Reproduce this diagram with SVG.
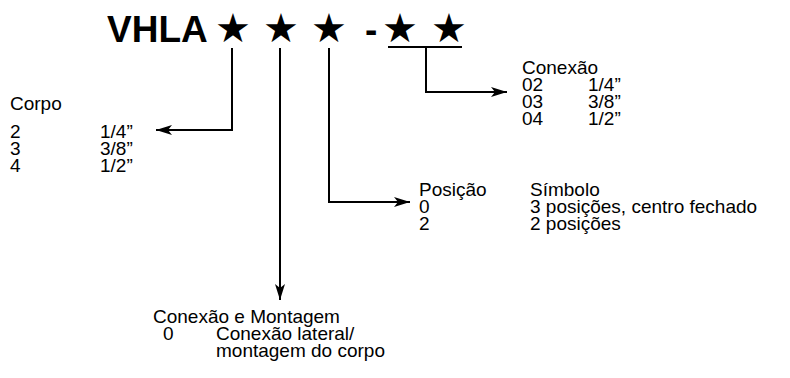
<svg xmlns="http://www.w3.org/2000/svg" width="790" height="378" viewBox="0 0 790 378">
<defs>
<marker id="ah" viewBox="0 0 16 10" refX="16" refY="5" markerWidth="16" markerHeight="10" markerUnits="userSpaceOnUse" orient="auto">
<path d="M0,0 L16,5 L0,10 L4,5 Z" fill="#000"/>
</marker>
<style>
text{font-family:"Liberation Sans",Arial,sans-serif;font-size:19px;fill:#000}
.title{font-size:37px;font-weight:bold}
.star{font-family:"DejaVu Sans",sans-serif;font-size:40px;text-anchor:middle}
.ln{fill:none;stroke:#000;stroke-width:2}
</style>
</defs>
<rect width="790" height="378" fill="#fff"/>
<g id="code">
<text class="title" x="107" y="42">VHLA</text>
<text class="star" x="233" y="42">★</text>
<text class="star" x="281" y="42">★</text>
<text class="star" x="329" y="42">★</text>
<text class="title" x="365" y="42">-</text>
<text class="star" x="400" y="42">★</text>
<text class="star" x="449" y="42">★</text>
</g>
<g id="connectors">
<line class="ln" x1="388" y1="47" x2="462" y2="47"/>
<path class="ln" d="M232,48 V130 H156" marker-end="url(#ah)"/>
<path class="ln" d="M426,47 V92 H507" marker-end="url(#ah)"/>
<path class="ln" d="M329,48 V202 H410" marker-end="url(#ah)"/>
<path class="ln" d="M280,48 V300" marker-end="url(#ah)"/>
</g>
<g id="corpo">
<text x="10" y="110">Corpo</text>
<text x="10" y="138">2</text><text x="100" y="138">1/4”</text>
<text x="10" y="155">3</text><text x="100" y="155">3/8”</text>
<text x="10" y="172">4</text><text x="100" y="172">1/2”</text>
</g>
<g id="conexao">
<text x="522" y="74">Conexão</text>
<text x="522" y="91">02</text><text x="588" y="91">1/4”</text>
<text x="522" y="108">03</text><text x="588" y="108">3/8”</text>
<text x="522" y="125">04</text><text x="588" y="125">1/2”</text>
</g>
<g id="posicao">
<text x="419" y="196">Posição</text><text x="530" y="196">Símbolo</text>
<text x="419" y="213">0</text><text x="530" y="213">3 posições, centro fechado</text>
<text x="419" y="230">2</text><text x="530" y="230">2 posições</text>
</g>
<g id="montagem">
<text x="153" y="323">Conexão e Montagem</text>
<text x="163" y="340">0</text><text x="216" y="340">Conexão lateral/</text>
<text x="216" y="357">montagem do corpo</text>
</g>
</svg>
